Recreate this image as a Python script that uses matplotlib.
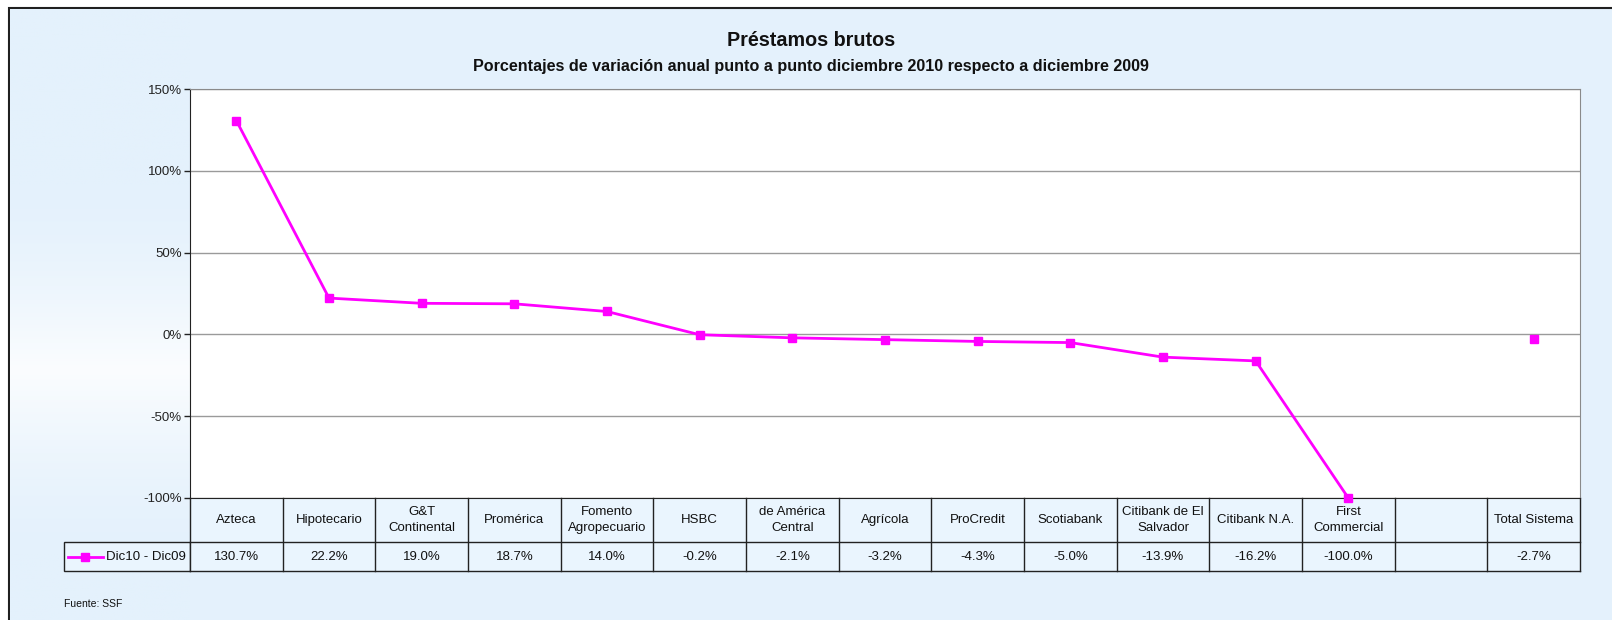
import numpy as np
import matplotlib.pyplot as plt
from matplotlib.patches import Rectangle
from matplotlib.lines import Line2D
from matplotlib.colors import LinearSegmentedColormap

plt.rcParams['font.family'] = ['Liberation Sans', 'DejaVu Sans']

bancos = ['Azteca', 'Hipotecario', 'G&T\nContinental', 'Promérica', 'Fomento\nAgropecuario',
          'HSBC', 'de América\nCentral', 'Agrícola', 'ProCredit', 'Scotiabank',
          'Citibank de El\nSalvador', 'Citibank N.A.', 'First\nCommercial', '', 'Total Sistema']
variacion = [130.7, 22.2, 19.0, 18.7, 14.0, -0.2, -2.1, -3.2, -4.3, -5.0,
             -13.9, -16.2, -100.0, np.nan, -2.7]
serie = 'Dic10 - Dic09'
yticks = [-100, -50, 0, 50, 100, 150]

W, H = 1612, 620
bg = '#E4F1FC'
cell_bg = '#EAF5FE'
mag = '#FF00FF'

fig = plt.figure(figsize=(W / 100, H / 100), dpi=100, facecolor='white')

# outer chart area
fig.patches.append(Rectangle((9 / W, -0.1), 1.2, (H - 8) / H + 0.1, transform=fig.transFigure,
                             facecolor=bg, edgecolor='#202020', lw=1.5, zorder=-5))

# whitish band in the left margin (gradient fill of the original)
gx = fig.add_axes([10 / W, 0, (190 - 10) / W, 1 - 9 / H])
gx.set_zorder(-4)
gx.axis('off')
rows = np.linspace(9, H, 300)
band = np.clip(1 - np.abs(rows - 370) / 190, 0, 1) ** 1.6 * 0.85
cmap = LinearSegmentedColormap.from_list('bgw', [bg, '#FFFFFF'])
gx.imshow(band[:, None], aspect='auto', cmap=cmap, vmin=0, vmax=1, extent=[0, 1, 0, 1])

left, right, top, bottom = 190, 1580, 89, 498
ax = fig.add_axes([left / W, 1 - bottom / H, (right - left) / W, (bottom - top) / H])
ax.set_zorder(2)
ax.set_facecolor('white')

x = np.arange(len(bancos))
ax.plot(x, variacion, color=mag, lw=2, marker='s', ms=6, zorder=3, clip_on=False)

ax.set_xlim(-0.5, len(bancos) - 0.5)
ax.set_ylim(-100, 150)
ax.set_yticks(yticks)
ax.set_yticklabels([f'{t}%' for t in yticks], fontsize=9.5)
ax.tick_params(axis='y', direction='out', length=4, width=1, pad=2, colors='#222222')
ax.tick_params(axis='x', length=0, labelbottom=False)
ax.grid(axis='y', color='#9A9A9A', lw=1)
ax.set_axisbelow(True)
for s in ['top', 'right']:
    ax.spines[s].set_color('#8A8A8A')
for s in ['left', 'bottom']:
    ax.spines[s].set_color('#222222')

# data table below the plot
ph = bottom - top
h1 = 44 / ph
h2 = 29 / ph
trans = ax.get_xaxis_transform()
n = len(bancos)
ax.add_patch(Rectangle((-0.5, -h1 - h2), n, h1 + h2, transform=trans, clip_on=False,
                       facecolor=cell_bg, edgecolor='none', zorder=1))
for i in range(n + 1):
    ax.add_line(Line2D([i - 0.5, i - 0.5], [0, -h1 - h2], transform=trans, color='#222222',
                       lw=1, clip_on=False))
ax.add_line(Line2D([-0.5, n - 0.5], [-h1, -h1], transform=trans, color='#222222', lw=1, clip_on=False))
ax.add_line(Line2D([-0.5, n - 0.5], [-h1 - h2, -h1 - h2], transform=trans, color='#222222', lw=1,
                   clip_on=False))
for i, (b, v) in enumerate(zip(bancos, variacion)):
    ax.text(i, -h1 / 2, b, transform=trans, ha='center', va='center', fontsize=9.5,
            linespacing=1.5, color='#111111')
    if not np.isnan(v):
        ax.text(i, -h1 - h2 / 2, f'{v:.1f}%', transform=trans, ha='center', va='center',
                fontsize=9.5, color='#111111')

# legend cell
lx0 = 64
fy0 = 1 - (bottom + 44) / H
fy1 = 1 - (bottom + 44 + 29) / H
fig.patches.append(Rectangle((lx0 / W, fy1), (left - lx0) / W, fy0 - fy1, transform=fig.transFigure,
                             facecolor=cell_bg, edgecolor='#222222', lw=1, zorder=1))
ym = (fy0 + fy1) / 2
fig.lines.append(Line2D([68 / W, 85 / W, 103 / W], [ym, ym, ym], transform=fig.transFigure,
                        color=mag, lw=2, marker='s', ms=6, markevery=[1], zorder=3))
fig.text(106 / W, ym, serie, ha='left', va='center', fontsize=9.5, color='#111111')

fig.text(811 / W, 1 - 40 / H, 'Préstamos brutos', ha='center', va='center', fontsize=14.2,
         fontweight='bold', color='#111111')
fig.text(811 / W, 1 - 67 / H,
         'Porcentajes de variación anual punto a punto diciembre 2010 respecto a diciembre 2009',
         ha='center', va='center', fontsize=11.6, fontweight='bold', color='#111111')
fig.text(64 / W, 1 - 604 / H, 'Fuente: SSF', ha='left', va='center', fontsize=7.5, color='#111111')

fig.savefig('out.png', dpi=100, facecolor='white')
